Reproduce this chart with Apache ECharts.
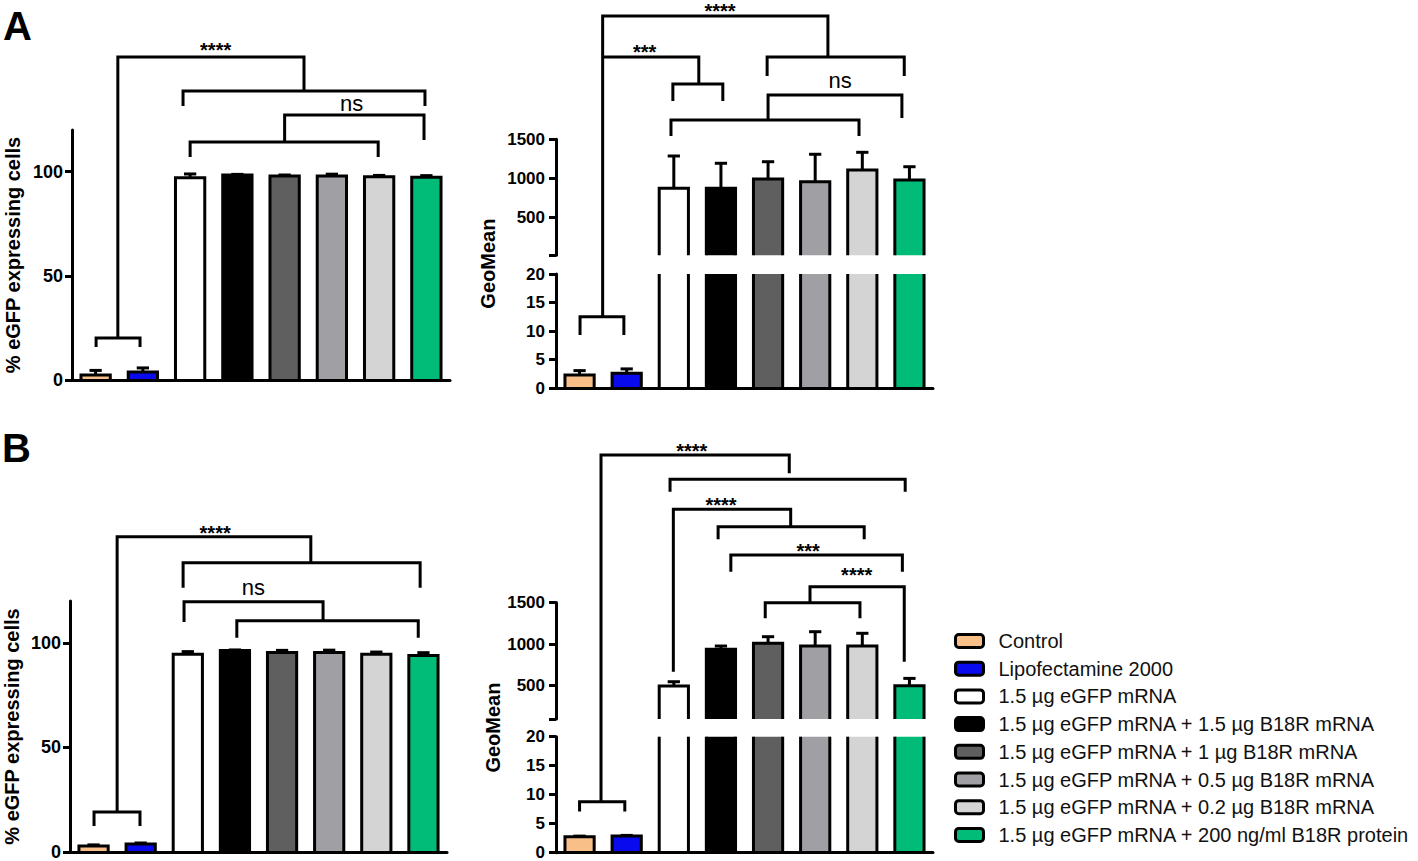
<!DOCTYPE html>
<html><head><meta charset="utf-8">
<script src="https://cdn.jsdelivr.net/npm/echarts@6/dist/echarts.min.js"></script>
<style>html,body{margin:0;padding:0;background:#fff}#c{width:1418px;height:861px}</style>
</head><body><div id="c"></div>
<script>
// ---------------- DATA ----------------
const groups = [
  'Control',
  'Lipofectamine 2000',
  '1.5 µg eGFP mRNA',
  '1.5 µg eGFP mRNA + 1.5 µg B18R mRNA',
  '1.5 µg eGFP mRNA + 1 µg B18R mRNA',
  '1.5 µg eGFP mRNA + 0.5 µg B18R mRNA',
  '1.5 µg eGFP mRNA + 0.2 µg B18R mRNA',
  '1.5 µg eGFP mRNA + 200 ng/ml B18R protein'
];
const groupColors = ['#F8C088', '#0A0AEE', '#FFFFFF', '#000000', '#5F5F5F', '#A0A0A4', '#D4D4D4', '#00BC78'];

// Panel A
const pctA    = [2.4, 3.8, 97.1, 98.4, 97.9, 97.9, 97.6, 97.3];
const pctAErr = [2.2, 2.0, 1.8, 0.3, 0.5, 0.9, 0.6, 0.8];
const geoA    = [2.3, 2.6, 875, 875, 994, 959, 1108, 981];
const geoAErr = [0.75, 0.75, 412, 319, 220, 350, 226, 169];
// Panel B
const pctB    = [2.9, 3.8, 94.6, 96.3, 95.4, 95.4, 94.6, 93.9];
const pctBErr = [0.5, 0.5, 1.2, 0.3, 1.0, 1.1, 1.0, 1.4];
const geoB    = [2.76, 2.88, 496, 937, 1010, 977, 977, 500];
const geoBErr = [0.1, 0.1, 52, 40, 79, 172, 153, 88];

// tick values
const pctTicks     = [0, 50, 100];
const geoLowTicks  = [0, 5, 10, 15, 20];
const geoHighLabels = [500, 1000, 1500];

// significance brackets, in data units: [category position, value]
const bracketsA1 = [
  [[0.01,15.8],[0.01,20.2],[0.94,20.2],[0.94,15.8]],
  [[0.47,20.2],[0.47,155],[4.41,155],[4.41,138.7]],
  [[1.85,131.5],[1.85,138.7],[6.97,138.7],[6.97,131.5]],
  [[2.0,107],[2.0,114.2],[5.98,114.2],[5.98,107]],
  [[4.0,114.2],[4.0,127.2],[6.95,127.2],[6.95,115.2]]
];
const labelsA1 = [['****', 2.54, 160.4], ['ns', 5.42, 131.9]];

const bracketsA2 = [
  [[0.01,9.3],[0.01,12.5],[0.94,12.5],[0.94,9.3]],
  [[0.49,12.5],[0.49,3073],[5.27,3073],[5.27,2550]],
  [[3.98,2307],[3.98,2550],[6.89,2550],[6.89,2307]],
  [[0.49,2550],[2.53,2550],[2.53,2205]],
  [[1.98,1989],[1.98,2205],[3.04,2205],[3.04,1989]],
  [[1.94,1542],[1.94,1746],[5.93,1746],[5.93,1542]],
  [[4.0,1746],[4.0,2065],[6.84,2065],[6.84,1772]]
];
const labelsA2 = [['****', 2.98, 3200], ['***', 1.38, 2671], ['ns', 5.53, 2222]];

const bracketsB1 = [
  [[0.01,12.4],[0.01,19.1],[0.985,19.1],[0.985,12.4]],
  [[0.5,19.1],[0.5,150.7],[4.61,150.7],[4.61,138.3]],
  [[1.9,126.3],[1.9,138.3],[6.93,138.3],[6.93,126.3]],
  [[1.92,110],[1.92,119.6],[4.87,119.6],[4.87,110.5]],
  [[3.04,102.4],[3.04,110.5],[6.89,110.5],[6.89,102.4]]
];
const labelsB1 = [['****', 2.58, 154.9], ['ns', 3.39, 125.4]];

const bracketsB2 = [
  [[0,7.1],[0,8.8],[0.96,8.8],[0.96,7.1]],
  [[0.455,8.8],[0.455,3273],[4.45,3273],[4.45,3053]],
  [[1.92,2832],[1.92,2981],[6.91,2981],[6.91,2832]],
  [[1.99,668],[1.99,2620],[4.48,2620],[4.48,2411]],
  [[2.94,2260],[2.94,2411],[6.04,2411],[6.04,2260]],
  [[3.21,1870],[3.21,2071],[6.85,2071],[6.85,1870]],
  [[3.94,1310],[3.94,1498],[5.95,1498],[5.95,1310]],
  [[4.89,1498],[4.89,1690],[6.89,1690],[6.89,788]]
];
const labelsB2 = [['****', 2.38, 3369], ['****', 3.0, 2728], ['***', 4.85, 2167], ['****', 5.88, 1887]];

// ---------------- STYLE / LAYOUT ----------------
const FONT = '"Liberation Sans", Arial, Helvetica, sans-serif';
const LW = 3;
const BAR_FRAC = 0.62;
const CAP_FRAC = 0.26;

const gridDefs = [
  {left:72,  top:130,   width:378, height:250,   min:0,   max:120,  ticks:pctTicks, labels:pctTicks, xLine:true, labelSize:18, margin:9,
   name:'% eGFP expressing cells', nameGap:49, values:pctA, errs:pctAErr},
  {left:556, top:274,   width:377, height:114,   min:0,   max:20,   ticks:geoLowTicks, labels:geoLowTicks, xLine:true, labelSize:17, margin:11,
   values:geoA, errs:geoAErr},
  {left:556, top:139.3, width:377, height:116,   min:20,  max:1500, ticks:[20,500,1000,1500], labels:geoHighLabels, xLine:false, labelSize:17, margin:11,
   values:geoA, errs:geoAErr},
  {left:70,  top:601,   width:377, height:251,   min:0,   max:120,  ticks:pctTicks, labels:pctTicks, xLine:true, labelSize:18, margin:9,
   name:'% eGFP expressing cells', nameGap:48, values:pctB, errs:pctBErr},
  {left:556, top:736.7, width:377, height:116,   min:0,   max:20,   ticks:geoLowTicks, labels:geoLowTicks, xLine:true, labelSize:17, margin:11,
   values:geoB, errs:geoBErr},
  {left:556, top:602.5, width:377, height:116.5, min:100, max:1500, ticks:[100,500,1000,1500], labels:geoHighLabels, xLine:false, labelSize:17, margin:11,
   values:geoB, errs:geoBErr},
  {left:556, top:139.3, width:377, height:248.7, nameOnly:true, name:'GeoMean', nameGap:58},
  {left:556, top:602.5, width:377, height:250.2, nameOnly:true, name:'GeoMean', nameGap:53}
];

const annotations = [
  {low:0, paths:bracketsA1, labels:labelsA1},
  {low:1, high:2, lowMax:20, paths:bracketsA2, labels:labelsA2},
  {low:3, paths:bracketsB1, labels:labelsB1},
  {low:4, high:5, lowMax:20, paths:bracketsB2, labels:labelsB2}
];

// ---------------- BUILD ----------------
const chart = echarts.init(document.getElementById('c'), null, {renderer:'svg', width:1418, height:861});

function makeBarRender(color, segMin, segMax) {
  return function (params, api) {
    const x = api.value(0), v = api.value(1), e = api.value(2);
    if (!(v > segMin)) return null;
    const unit = api.size([1, 0])[0];
    const half = unit * BAR_FRAC / 2;
    const base = api.coord([x, segMin]);
    const cx = base[0], yb = base[1];
    const inSeg = v <= segMax;
    const yt = api.coord([x, Math.min(v, segMax)])[1];
    const lineStyle = {stroke:'#000', lineWidth:LW, fill:null, lineJoin:'miter', lineCap:'butt'};
    const children = [
      {type:'rect', shape:{x:cx-half, y:yt, width:2*half, height:yb-yt}, style:{fill:color}}
    ];
    if (inSeg) {
      children.push({type:'polyline', shape:{points:[[cx-half,yb],[cx-half,yt],[cx+half,yt],[cx+half,yb]]}, style:lineStyle});
      if (e > 0) {
        const ye = api.coord([x, v + e])[1];
        const cap = unit * CAP_FRAC / 2;
        children.push({type:'line', shape:{x1:cx, y1:yt, x2:cx, y2:ye}, style:lineStyle});
        children.push({type:'line', shape:{x1:cx-cap, y1:ye, x2:cx+cap, y2:ye}, style:lineStyle});
      }
    } else {
      children.push({type:'line', shape:{x1:cx-half, y1:yb, x2:cx-half, y2:yt}, style:lineStyle});
      children.push({type:'line', shape:{x1:cx+half, y1:yb, x2:cx+half, y2:yt}, style:lineStyle});
    }
    return {type:'group', children};
  };
}

const grid = [], xAxis = [], yAxis = [], series = [];
gridDefs.forEach((g, gi) => {
  grid.push({left:g.left, top:g.top, width:g.width, height:g.height, containLabel:false, outerBoundsMode:'none'});
  xAxis.push({
    type:'value', gridIndex:gi, min:-0.5, max:7.5, show: !g.nameOnly && g.xLine, z:3,
    axisLine:{show:true, onZero:false, lineStyle:{color:'#000', width:LW}},
    axisTick:{show:false}, axisLabel:{show:false}, splitLine:{show:false}
  });
  if (g.nameOnly) {
    yAxis.push({
      type:'value', gridIndex:gi, min:0, max:1, name:g.name, nameLocation:'middle', nameGap:g.nameGap,
      nameTextStyle:{fontSize:20, fontWeight:'bold', fontFamily:FONT, color:'#000'},
      axisLine:{show:false, onZero:false}, axisTick:{show:false}, axisLabel:{show:false}, splitLine:{show:false}
    });
    return;
  }
  yAxis.push({
    type:'value', gridIndex:gi, min:g.min, max:g.max, z:3,
    name: g.name || '', nameLocation:'middle', nameGap:g.nameGap || 0,
    nameTextStyle:{fontSize:20, fontWeight:'bold', fontFamily:FONT, color:'#000'},
    axisLine:{show:true, onZero:false, lineStyle:{color:'#000', width:LW}},
    axisTick:{show:true, length:7, customValues:g.ticks, lineStyle:{color:'#000', width:LW}},
    axisLabel:{show:true, customValues:g.labels, margin:g.margin, fontSize:g.labelSize, fontWeight:'bold', fontFamily:FONT, color:'#000',
      formatter: v => String(v)},
    splitLine:{show:false}
  });
  groups.forEach((name, k) => {
    series.push({
      type:'custom', name, xAxisIndex:gi, yAxisIndex:gi,
      itemStyle:{color:groupColors[k]},
      encode:{x:0, y:1},
      data:[[k, g.values[k], g.errs[k]]],
      renderItem: makeBarRender(groupColors[k], g.min, g.max),
      silent:true
    });
  });
});

const option = {
  backgroundColor:'#fff',
  animation:false,
  title:[
    {text:'A', left:3, top:6, padding:0, textStyle:{fontSize:40, fontWeight:'bold', fontFamily:FONT, color:'#000'}},
    {text:'B', left:2, top:428, padding:0, textStyle:{fontSize:40, fontWeight:'bold', fontFamily:FONT, color:'#000'}}
  ],
  legend:{
    orient:'vertical', left:954, top:631, padding:0, itemWidth:28, itemHeight:13, itemGap:7.7,
    icon:'roundRect', selectedMode:false, data:groups,
    itemStyle:{borderColor:'#000', borderWidth:LW},
    textStyle:{fontSize:20, fontFamily:FONT, color:'#111', padding:[0,0,0,10]}
  },
  grid, xAxis, yAxis, series
};
chart.setOption(option);

// brackets & significance labels (positioned from data units through the axes)
const gfx = [];
annotations.forEach(a => {
  const toPx = p => chart.convertToPixel({gridIndex: (a.high != null && p[1] > a.lowMax) ? a.high : a.low}, p);
  a.paths.forEach(path => {
    gfx.push({type:'polyline', z:10, shape:{points:path.map(toPx)},
      style:{stroke:'#000', lineWidth:LW, fill:null, lineJoin:'miter'}});
  });
  a.labels.forEach(([t, x, y]) => {
    const p = toPx([x, y]);
    const stars = t.indexOf('*') >= 0;
    gfx.push({type:'text', z:10, x:p[0], y:p[1] + (stars ? 4.5 : -1.9),
      style:{text:t, fill:'#000', font: (stars ? 'bold 20px ' : '22px ') + FONT,
        textAlign:'center', textVerticalAlign:'middle', align:'center', verticalAlign:'middle'}});
  });
});
chart.setOption({graphic: gfx});
</script></body></html>
